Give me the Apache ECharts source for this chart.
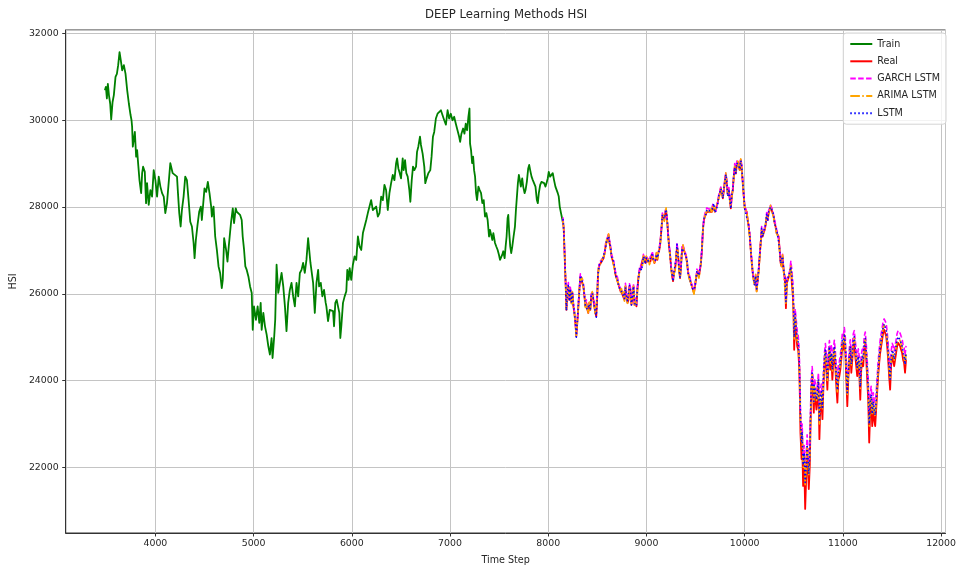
<!DOCTYPE html>
<html>
<head>
<meta charset="utf-8">
<title>DEEP Learning Methods HSI</title>
<script src="https://cdn.jsdelivr.net/npm/echarts@6/dist/echarts.min.js"></script>
<style>
  html, body { margin: 0; padding: 0; background: #fff; }
  #chart { width: 959px; height: 570px; }
</style>
</head>
<body>
<div id="chart"></div>
<script>
// Training window of the HSI index
const trainSteps = [
  3486,3496,3506,3516,3527,3540,3550,3564,3577,3594,
  3608,3621,3635,3648,3662,3679,3696,3713,3730,3747,
  3757,3763,3770,3784,3791,3804,3814,3824,3838,3855,
  3865,3875,3892,3905,3915,3932,3949,3966,3983,4000,
  4017,4034,4051,4068,4085,4101,4118,4135,4152,4162,
  4176,4196,4220,4230,4243,4257,4270,4287,4304,4321,
  4338,4355,4372,4389,4399,4412,4429,4446,4463,4473,
  4490,4500,4517,4534,4551,4568,
  4575,4592,4609,4626,4643,4659,4676,4686,4700,4720,
  4734,4747,4761,4771,4788,4801,4818,4828,4845,4862,
  4879,4889,4903,4916,4930,4947,4964,4981,4991,5004,
  5024,5041,5058,5072,5082,5099,5116,5133,5150,5166,
  5183,5193,5210,5220,5234,5251,5268,5285,5302,5319,
  5335,5352,5369,5386,5403,5420,5437,5454,5471,5488,
  5504,5521,5538,5555,5565,5579,5589,5606,5623,5640,
  5657,5667,5684,5700,5717,5734,
  5741,5758,5775,5792,5809,5819,5832,5846,5859,5873,
  5883,5893,5910,5927,5944,5954,5967,5978,5994,6011,
  6028,6045,6062,6079,6096,6113,6130,6147,6163,6180,
  6197,6214,6231,6248,6265,6282,6299,6316,6332,6349,
  6366,6383,6400,6417,6434,6451,6461,6474,6488,6501,
  6518,6528,6542,6555,6569,6586,6596,6610,6623,6637,
  6654,6664,6677,6694,6704,6721,6738,6748,6762,6779,
  6799,6812,6826,6839,6856,6873,6890,6907,6924,6941,
  6958,
  6975,6991,7008,7025,7042,7059,7076,7093,7103,7116,
  7133,7147,7160,7174,7187,7198,7204,7214,7225,7235,
  7245,7255,7265,7275,7289,7302,7316,7329,7343,7356,
  7370,7383,7397,7407,7421,7431,7441,7458,7471,7485,
  7498,7509,7519,7532,7542,7556,7566,7576,7586,7593,
  7603,7613,7623,7634,7647,7661,7671,7681,7691,7701,
  7711,7721,7735,7745,7759,7769,7782,7796,7806,7816,
  7830,7843,7857,7870,7884,7894,7904,7918,7931,7945,
  7958,7972,7982,7995,8005,8019,8032,8046,8059,8073,
  8087,8097,8107,8117,8130,8141,8148
];
const trainHSI = [
  30690,30770,30500,30840,30580,30380,30020,30420,30580,31000,
  31070,31270,31570,31380,31150,31270,31070,30690,30380,30120,
  30000,29850,29390,29620,29730,29160,29310,29010,28620,28320,
  28780,28930,28810,28090,28550,28050,28390,28240,28850,28620,
  28240,28700,28470,28320,28240,27860,28090,28550,29010,29020,
  28780,28810,28700,28320,27860,27550,27930,28240,28700,28620,
  28160,27660,27550,27170,26820,27240,27590,27890,28010,27700,
  28160,28430,28350,28580,28320,28010,
  27780,28010,27320,27010,26630,26480,26130,26320,27280,27010,
  26740,27090,27430,27660,27970,27630,27970,27890,27930,27820,
  27700,27320,27010,26630,26550,26400,26170,26020,25170,25710,
  25400,25710,25330,25790,25170,25560,25250,25060,24790,24600,
  24980,24520,25020,25400,26670,26020,26250,26480,26170,25710,
  25140,25790,26090,26250,25940,25710,26250,25940,26480,26550,
  26710,26480,26780,27280,27240,26710,26710,26250,25560,26250,
  26550,26170,26250,25940,26090,25790,
  25710,25370,25630,25600,25600,25250,25790,25860,25830,25560,
  24980,25250,25790,25940,26060,26550,26320,26590,26320,26670,
  26860,26780,27320,27090,27010,27400,27400,27700,27860,28010,
  28160,27930,27890,28010,27780,27860,28240,28160,28510,28390,
  27930,28320,28550,28740,28620,29010,29120,28890,28780,28660,
  29120,28850,29080,28780,28700,28390,28120,28620,28930,28850,
  28930,29270,29390,29620,29430,29230,28930,28550,28660,28780,
  28850,29160,29620,29730,30040,30150,30120,30230,30190,30000,
  29900,
  30230,30040,30150,30000,30080,29920,29770,29620,29500,29690,
  29810,29690,29920,29770,30080,30270,29460,29310,29010,29160,
  28850,28700,28320,28160,28470,28390,28320,28090,28160,27780,
  27860,27700,27320,27470,27470,27240,27400,27170,27090,27010,
  26900,26780,26750,26900,26980,26820,27090,27320,27740,27820,
  27400,27090,26940,27090,27320,27550,27930,28240,28550,28740,
  28620,28470,28660,28470,28320,28390,28580,28890,28970,28850,
  28700,28620,28580,28470,28160,28090,28320,28510,28580,28620,
  28550,28470,28550,28660,28810,28700,28660,28780,28620,28470,
  28470,28320,28240,28010,27860,27740,27650
];

// Test window: real index and the three model forecasts
const testSteps = [
  8150,8158,8165,8171,8178,8185,8195,8205,8215,8225,
  8236,8246,8256,8266,8276,8286,8296,8307,8317,8327,
  8337,8347,8357,8367,8378,8388,8398,8408,8418,8428,
  8438,8448,8459,8469,8479,8489,8499,8506,8513,8523,
  8533,8543,8553,8563,8574,8584,8594,8604,8614,8624,
  8634,8645,8655,8665,8675,8685,8695,8705,8716,8726,
  8736,8746,8756,8766,8776,8786,8797,8807,8817,8827,
  8837,8847,8857,8868,8878,8888,8898,8908,8918,8928,
  8939,8949,8959,8969,8979,8989,8999,9010,9020,9030,
  9040,9050,9060,9070,9081,9091,9101,9111,9121,9131,
  9141,9152,9162,9172,9182,9192,9200,9210,9220,9230,
  9240,9250,9261,9271,9281,9291,9301,9311,9321,9332,
  9342,9352,9362,9372,9382,9392,9403,9413,9423,9433,
  9443,9453,9463,9474,9484,9494,9504,9514,9524,9534,
  9545,9555,9565,9575,9585,9595,9605,9615,9626,9636,
  9646,9656,9666,9676,9686,9697,9707,9717,9727,9737,
  9747,9757,9768,9778,9788,9798,9808,9818,9828,9839,
  9849,9859,9869,9879,9889,9899,9910,9920,9930,9940,
  9950,9960,9970,9981,9991,10001,10011,10021,10031,10041,
  10052,10062,10072,10082,10092,10102,10112,10122,10133,10143,
  10153,10163,10173,10183,10193,10204,10214,10224,10234,10244,
  10254,10264,10275,10285,10295,10305,10315,10325,10335,10346,
  10356,10366,10376,10386,10399,10409,10420,10430,10440,10450,
  10460,10470,10480,10491,10497,10504,10514,10524,10535,10545,
  10555,10562,10568,10579,10585,10595,10606,10616,10626,10636,
  10646,10653,10663,10670,10677,10687,10697,10704,10710,10721,
  10731,10741,10751,10761,10771,10781,10792,10802,10812,10822,
  10832,10842,10852,10863,10873,10883,10893,10903,10913,10923,
  10933,10944,10954,10964,10974,10984,10994,11004,11015,11025,
  11035,11045,11055,11065,11075,11086,11096,11106,11116,11126,
  11136,11146,11157,11167,11177,11187,11197,11207,11217,11228,
  11238,11248,11258,11268,11278,11288,11299,11309,11319,11329,
  11339,11349,11359,11370,11380,11390,11400,11410,11420,11431,
  11441,11451,11461,11471,11481,11491,11502,11512,11522,11532,
  11542,11552,11562,11572,11583,11593,11603,11613,11623,11633,
  11643
];
const realHSI = [
  27700,27470,27010,26630,26170,25630,26020,26170,25860,26090,
  25790,26020,25710,25560,25330,25020,25330,25710,26090,26400,
  26320,26360,26170,25980,25710,25790,25630,25560,25790,25630,
  25940,26020,25860,25710,25560,25480,25940,26400,26590,26670,
  26710,26740,26740,26820,26940,27090,27200,27170,27360,27170,
  27050,26860,26780,26740,26590,26440,26400,26290,26210,26170,
  26060,26090,25980,26020,25860,26170,25940,25790,25860,26170,
  26090,25750,25900,26170,25750,25830,25710,26090,26360,26520,
  26590,26550,26630,26860,26780,26710,26820,26740,26780,26710,
  26740,26860,26900,26780,26710,26780,26900,26780,26940,27010,
  27170,27470,27780,27820,27700,27860,27930,27700,27400,27090,
  26900,26630,26400,26290,26480,26550,26780,27090,26940,26550,
  26360,26630,27010,27090,27010,26940,26860,26710,26510,26400,
  26320,26250,26170,26090,26020,26170,26320,26480,26510,26400,
  26550,26710,27010,27470,27700,27780,27820,27890,27930,27890,
  27930,27930,27890,28010,28050,27890,27860,27930,28120,28240,
  28310,28430,28310,28200,28390,28580,28740,28540,28280,28390,
  28160,27970,28240,28390,28700,28930,28770,28970,29040,28930,
  28850,29080,28890,28540,28240,27970,27930,27890,27700,27550,
  27320,27010,26710,26480,26320,26210,26400,26060,26320,26550,
  26860,27170,27470,27320,27400,27470,27590,27780,27700,27860,
  27930,28010,27930,27890,27780,27630,27550,27400,27400,27320,
  27010,26710,26630,26860,26480,26400,25670,26250,26320,26400,
  26480,26630,26250,25940,25560,24710,25400,25100,24790,24710,
  24330,23640,22800,22190,22650,21570,22110,21040,21730,22340,
  21880,21500,22030,22880,23640,24020,23640,23260,23720,23560,
  23330,23560,23870,22650,23410,23560,23110,23870,24330,24560,
  24250,23790,24330,24640,24250,24480,24020,24410,24640,24330,
  23870,23490,24020,24100,24250,24480,24790,24710,24940,24640,
  24020,23410,24020,24410,24640,24180,24480,24790,24870,24560,
  24330,24100,24410,24180,23560,24250,24410,24330,24710,24830,
  24480,24020,23560,22570,23260,23490,22950,23330,23100,22950,
  23330,23720,24100,24410,24640,24790,24940,25100,25170,25130,
  25020,24790,24480,24100,23790,24330,24560,24480,24330,24480,
  24640,24790,24870,24870,24790,24710,24640,24480,24410,24180,
  24480
];
const garchLstmHSI = [
  27760,27500,27090,26680,26190,25700,26060,26260,25870,26150,
  25850,26050,25790,25610,25350,25090,25370,25800,26100,26460,
  26380,26390,26250,26030,25730,25860,25670,25650,25800,25690,
  26000,26050,25940,25760,25580,25550,25980,26490,26600,26730,
  26770,26770,26820,26870,26960,27160,27240,27260,27370,27230,
  27110,26890,26860,26790,26610,26510,26440,26380,26220,26230,
  26120,26120,26060,26070,25880,26240,25980,25880,25870,26230,
  26150,25780,25980,26220,25770,25900,25750,26180,26370,26580,
  26650,26580,26710,26910,26800,26780,26860,26830,26790,26770,
  26800,26890,26980,26830,26730,26850,26940,26870,26950,27070,
  27230,27500,27860,27870,27720,27930,27970,27790,27410,27150,
  26960,26660,26480,26340,26500,26620,26820,27180,26950,26610,
  26420,26660,27090,27140,27030,27010,26900,26800,26520,26460,
  26380,26280,26250,26140,26040,26240,26360,26570,26520,26460,
  26610,26740,27090,27520,27720,27850,27860,27980,27940,27950,
  27990,27960,27970,28060,28070,27960,27900,28020,28130,28300,
  28370,28460,28390,28250,28410,28650,28780,28630,28290,28450,
  28220,28000,28320,28440,28720,29000,28810,29060,29050,28990,
  28910,29110,28970,28590,28260,28040,27970,27980,27710,27610,
  27380,27040,26790,26530,26340,26280,26440,26150,26330,26610,
  26920,27200,27550,27370,27420,27540,27630,27870,27710,27920,
  27990,28040,28010,27940,27800,27700,27590,27490,27410,27380,
  27070,26740,26710,26910,26500,26470,25900,26340,26330,26460,
  26540,26750,26560,26250,25900,25200,25650,25420,25130,25050,
  24700,24080,23350,22800,23000,22300,22500,22000,22250,22750,
  22400,22100,22450,23250,24000,24320,24050,23750,24050,23920,
  23760,23900,24180,23350,23800,23920,23600,24200,24620,24850,
  24620,24230,24650,24920,24620,24800,24450,24720,24930,24680,
  24300,24000,24380,24440,24580,24800,25080,25030,25220,24990,
  24450,23950,24380,24720,24940,24580,24800,25080,25150,24920,
  24700,24500,24730,24560,24080,24580,24720,24660,25010,25120,
  24840,24450,24050,23300,23700,23870,23450,23720,23550,23420,
  23720,24080,24430,24720,24940,25080,25220,25360,25420,25400,
  25320,25120,24850,24500,24250,24660,24860,24800,24680,24800,
  24940,25080,25150,25160,25090,25020,24960,24820,24760,24580,
  24800
];
const arimaLstmHSI = [
  27680,27500,27010,26670,26140,25640,26070,26160,25880,26050,
  25770,26050,25710,25600,25300,25030,25380,25700,26110,26360,
  26300,26390,26170,26020,25680,25800,25680,25550,25810,25590,
  25920,26050,25860,25750,25530,25490,25990,26390,26610,26630,
  26690,26770,26740,26860,26910,27100,27250,27160,27380,27130,
  27030,26890,26780,26780,26560,26450,26450,26280,26230,26130,
  26040,26120,25980,26060,25830,26180,25990,25780,25880,26130,
  26070,25780,25900,26210,25720,25840,25760,26080,26380,26480,
  26570,26580,26630,26900,26750,26720,26870,26730,26800,26670,
  26720,26890,26900,26820,26680,26790,26950,26770,26960,26970,
  27150,27500,27780,27860,27670,27870,27980,27690,27420,27050,
  26880,26660,26400,26330,26450,26560,26830,27080,26960,26510,
  26340,26660,27010,27130,26980,26950,26910,26700,26530,26360,
  26300,26280,26170,26130,25990,26180,26370,26470,26530,26360,
  26530,26740,27010,27510,27670,27790,27870,27880,27950,27850,
  27910,27960,27890,28050,28020,27900,27910,27920,28140,28200,
  28290,28460,28310,28240,28360,28590,28790,28530,28300,28350,
  28140,28000,28240,28430,28670,28940,28820,28960,29060,28890,
  28830,29110,28890,28580,28210,27980,27980,27880,27720,27510,
  27300,27040,26710,26520,26290,26220,26450,26050,26340,26510,
  26840,27200,27470,27360,27370,27480,27640,27770,27720,27820,
  27910,28040,27930,27930,27750,27640,27600,27390,27420,27280,
  26990,26740,26630,26900,26450,26410,25780,26240,26340,26360,
  26460,26660,26370,26060,25700,24960,25500,25230,24920,24850,
  24480,23850,23100,22550,22800,22000,22300,21600,21980,22500,
  22150,21800,22250,23050,23800,24150,23830,23500,23870,23720,
  23540,23710,24010,23000,23600,23720,23350,24020,24450,24680,
  24400,24000,24460,24760,24400,24610,24220,24540,24760,24470,
  24070,23740,24170,24240,24380,24610,24910,24840,25060,24780,
  24220,23680,24170,24540,24770,24360,24610,24910,24990,24710,
  24480,24270,24540,24350,23820,24390,24540,24470,24840,24950,
  24630,24220,23800,22950,23450,23650,23200,23500,23310,23170,
  23500,23870,24240,24540,24770,24910,25060,25210,25280,25250,
  25150,24930,24640,24270,24000,24460,24680,24610,24470,24610,
  24770,24910,24990,24990,24920,24840,24770,24620,24550,24350,
  24610
];
const lstmHSI = [
  27720,27460,27050,26630,26200,25610,26030,26220,25830,26110,
  25810,26010,25750,25560,25360,25000,25340,25760,26060,26420,
  26340,26350,26210,25980,25740,25770,25640,25610,25760,25650,
  25960,26010,25900,25710,25590,25460,25950,26450,26560,26690,
  26730,26730,26780,26820,26970,27070,27210,27220,27330,27190,
  27070,26850,26820,26740,26620,26420,26410,26340,26180,26190,
  26080,26080,26020,26020,25890,26150,25950,25840,25830,26190,
  26110,25740,25940,26170,25780,25810,25720,26140,26330,26540,
  26610,26540,26670,26860,26810,26690,26830,26790,26750,26730,
  26760,26850,26940,26780,26740,26760,26910,26830,26910,27030,
  27190,27460,27820,27820,27730,27840,27940,27750,27370,27110,
  26920,26620,26440,26290,26510,26530,26790,27140,26910,26570,
  26380,26620,27050,27090,27040,26920,26870,26760,26480,26420,
  26340,26240,26210,26090,26050,26150,26330,26530,26480,26420,
  26570,26700,27050,27470,27730,27760,27830,27940,27900,27910,
  27950,27920,27930,28010,28080,27870,27870,27980,28090,28260,
  28330,28420,28350,28200,28420,28560,28750,28590,28250,28410,
  28180,27960,28280,28390,28730,28910,28780,29020,29010,28950,
  28870,29070,28930,28540,28270,27950,27940,27940,27670,27570,
  27340,27000,26750,26480,26350,26190,26410,26110,26290,26570,
  26880,27160,27510,27320,27430,27450,27600,27830,27670,27880,
  27950,28000,27970,27890,27810,27610,27560,27450,27370,27340,
  27030,26700,26670,26860,26510,26380,25820,26300,26290,26420,
  26500,26620,26400,26090,25720,25000,25530,25250,24950,24880,
  24500,23880,23150,22600,22820,22050,22330,21650,22000,22520,
  22180,21850,22280,23080,23820,24170,23850,23520,23890,23740,
  23560,23730,24030,23050,23620,23740,23380,24040,24480,24700,
  24420,24030,24480,24780,24430,24630,24250,24560,24790,24500,
  24100,23780,24190,24260,24400,24630,24930,24860,25080,24800,
  24250,23720,24190,24560,24790,24380,24630,24930,25010,24730,
  24500,24300,24560,24370,23860,24410,24560,24490,24860,24970,
  24650,24250,23830,23000,23480,23680,23230,23520,23340,23200,
  23520,23890,24260,24560,24790,24930,25080,25230,25300,25270,
  25170,24950,24660,24300,24030,24480,24700,24630,24490,24630,
  24790,24930,25010,25010,24940,24860,24790,24640,24570,24370,
  24630
];

const FONT = 'DejaVu Sans';
const TEXT = '#262626';

function pairs(xs, ys) {
  return xs.map((x, i) => [x, ys[i]]);
}

function lineSeries(name, xs, ys, color, type, width, z) {
  return {
    name: name,
    type: 'line',
    data: pairs(xs, ys),
    showSymbol: false,
    symbol: 'none',
    z: z,
    itemStyle: { color: color },
    lineStyle: { color: color, width: width, type: type, cap: 'butt', join: 'round' },
    emphasis: { disabled: true }
  };
}

const chart = echarts.init(document.getElementById('chart'), null, { renderer: 'canvas' });

chart.setOption({
  animation: false,
  backgroundColor: '#ffffff',
  title: {
    text: 'DEEP Learning Methods HSI',
    left: 425,
    top: 9,
    padding: 0,
    textStyle: { fontFamily: FONT, fontSize: 11.7, fontWeight: 'normal', color: TEXT }
  },
  legend: {
    orient: 'vertical',
    right: 13,
    top: 33,
    padding: [6, 6, 6, 6],
    itemWidth: 22,
    itemHeight: 10,
    itemGap: 7.3,
    borderColor: '#d4d4d4',
    borderWidth: 1,
    borderRadius: 3,
    backgroundColor: 'rgba(255,255,255,0.8)',
    itemStyle: { opacity: 0 },
    textStyle: { fontFamily: FONT, fontSize: 9.6, color: TEXT, lineHeight: 10 },
    data: ['Train', 'Real', 'GARCH LSTM', 'ARIMA LSTM', 'LSTM'],
    z: 10
  },
  grid: {
    left: 65, right: 11, top: 30, bottom: 35,
    show: true,
    borderColor: '#333333',
    borderWidth: 1,
    backgroundColor: 'transparent'
  },
  xAxis: {
    type: 'value',
    min: 3087,
    max: 12045,
    splitNumber: 9,
    name: 'Time Step',
    nameLocation: 'middle',
    nameGap: 22,
    nameTextStyle: { fontFamily: FONT, fontSize: 9.6, color: TEXT },
    axisLine: { show: true, lineStyle: { color: '#333333', width: 1 } },
    axisTick: { show: true, inside: false, length: 3.5, lineStyle: { color: '#333333', width: 1 } },
    axisLabel: {
      fontFamily: FONT, fontSize: 9.4, color: TEXT, margin: 6,
      showMinLabel: false, showMaxLabel: false,
      formatter: (v) => String(v)
    },
    splitLine: { show: true, lineStyle: { color: '#c4c4c4', width: 1 } }
  },
  yAxis: {
    type: 'value',
    min: 20486,
    max: 32080,
    splitNumber: 6,
    name: 'HSI',
    nameLocation: 'middle',
    nameGap: 46,
    nameTextStyle: { fontFamily: FONT, fontSize: 9.6, color: TEXT },
    axisLine: { show: true, lineStyle: { color: '#333333', width: 1 } },
    axisTick: { show: true, inside: false, length: 3.5, lineStyle: { color: '#333333', width: 1 } },
    axisLabel: {
      fontFamily: FONT, fontSize: 9.4, color: TEXT, margin: 7,
      showMinLabel: false, showMaxLabel: false,
      formatter: (v) => String(v)
    },
    splitLine: { show: true, lineStyle: { color: '#c4c4c4', width: 1 } }
  },
  series: [
    lineSeries('Train', trainSteps, trainHSI, '#008000', 'solid', 1.8, 2),
    lineSeries('Real', testSteps, realHSI, '#ff0000', 'solid', 1.8, 3),
    lineSeries('GARCH LSTM', testSteps, garchLstmHSI, '#ff00ff', [5.5, 2.4], 1.6, 4),
    lineSeries('ARIMA LSTM', testSteps, arimaLstmHSI, '#ffa500', [9.6, 2.4, 1.5, 2.4], 1.6, 5),
    lineSeries('LSTM', testSteps, lstmHSI, '#0000ff', [1.5, 2.5], 1.6, 6)
  ]
});
</script>
</body>
</html>
